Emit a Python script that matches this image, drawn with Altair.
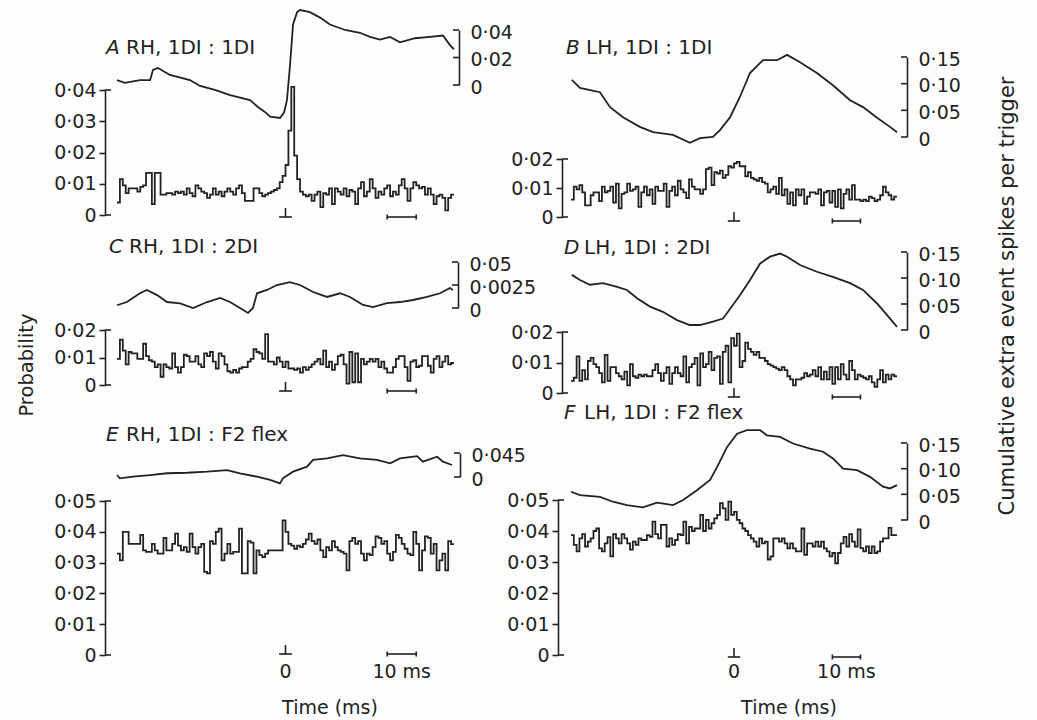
import altair as alt
import pandas as pd

# ---------------- data ----------------
T_START, T_END = -58, 58          # histogram time window (ms), 1 ms bins

hist_A = [0.004, 0.0115, 0.0095, 0.007, 0.0085, 0.0085, 0.0085, 0.0075, 0.009, 0.0095,
          0.0135, 0.0135, 0.0035, 0.0135, 0.0135, 0.0065, 0.0065, 0.007, 0.007, 0.0065,
          0.0075, 0.007, 0.0075, 0.0065, 0.0085, 0.007, 0.006, 0.0095, 0.0085, 0.0075,
          0.007, 0.0055, 0.0065, 0.0085, 0.0065, 0.0075, 0.006, 0.0075, 0.0085, 0.0075,
          0.0065, 0.0085, 0.0095, 0.007, 0.0045, 0.0045, 0.0045, 0.0085, 0.0085, 0.007,
          0.006, 0.0065, 0.007, 0.0075, 0.008, 0.0085, 0.0105, 0.0125, 0.016, 0.027,
          0.041, 0.019, 0.0115, 0.0075, 0.0065, 0.006, 0.0065, 0.0045, 0.0065, 0.0075,
          0.0025, 0.007, 0.0065, 0.0085, 0.0035, 0.0085, 0.0075, 0.0065, 0.0085, 0.006,
          0.008, 0.0075, 0.0035, 0.0085, 0.0105, 0.006, 0.0075, 0.0115, 0.0085, 0.0055,
          0.0075, 0.0065, 0.0085, 0.0095, 0.006, 0.0075, 0.0065, 0.0095, 0.0115, 0.0085,
          0.0045, 0.0085, 0.0105, 0.0095, 0.0085, 0.009, 0.0065, 0.0085, 0.0065, 0.0035,
          0.006, 0.0065, 0.0055, 0.0015, 0.0055, 0.0065]
hist_B = [0.006, 0.0105, 0.0095, 0.011, 0.0085, 0.004, 0.004, 0.0075, 0.0085, 0.0085,
          0.0055, 0.0105, 0.0085, 0.009, 0.0105, 0.005, 0.0115, 0.003, 0.008, 0.0085,
          0.0115, 0.009, 0.0095, 0.0105, 0.0035, 0.0085, 0.0105, 0.0075, 0.0095, 0.0045,
          0.0105, 0.009, 0.009, 0.0115, 0.0035, 0.009, 0.0105, 0.0075, 0.0125, 0.0095,
          0.0085, 0.0065, 0.013, 0.0105, 0.0095, 0.0095, 0.008, 0.0095, 0.0165, 0.017,
          0.011, 0.0155, 0.015, 0.016, 0.0135, 0.0145, 0.0175, 0.017, 0.0185, 0.019,
          0.0175, 0.0175, 0.014, 0.0155, 0.0135, 0.013, 0.0125, 0.0135, 0.012, 0.0115,
          0.0085, 0.0095, 0.0105, 0.008, 0.0135, 0.0075, 0.0095, 0.0045, 0.0085, 0.004,
          0.0095, 0.0075, 0.0095, 0.0045, 0.007, 0.0085, 0.0085, 0.008, 0.0095, 0.004,
          0.0085, 0.009, 0.005, 0.009, 0.0035, 0.0095, 0.003, 0.008, 0.0095, 0.006,
          0.011, 0.006, 0.006, 0.0055, 0.006, 0.0055, 0.007, 0.0065, 0.0055, 0.006,
          0.0075, 0.0105, 0.0085, 0.0075, 0.006, 0.007]
hist_C = [0.0095, 0.0165, 0.0125, 0.0075, 0.012, 0.0115, 0.0115, 0.0095, 0.0095, 0.015,
          0.0105, 0.009, 0.0085, 0.0065, 0.0075, 0.003, 0.0075, 0.0065, 0.006, 0.0115,
          0.0065, 0.0045, 0.0065, 0.011, 0.0105, 0.0085, 0.0085, 0.0105, 0.0075, 0.0065,
          0.0115, 0.0105, 0.012, 0.0085, 0.006, 0.0115, 0.0105, 0.0075, 0.005, 0.0045,
          0.0055, 0.0045, 0.006, 0.0065, 0.0065, 0.0085, 0.0095, 0.013, 0.012, 0.0115,
          0.0095, 0.0185, 0.0085, 0.0085, 0.0075, 0.01, 0.0085, 0.0065, 0.0085, 0.006,
          0.006, 0.0055, 0.006, 0.0045, 0.0065, 0.0055, 0.0065, 0.0075, 0.0085, 0.0095,
          0.0075, 0.0125, 0.0065, 0.0085, 0.0055, 0.0075, 0.0105, 0.011, 0.0075, 0.0005,
          0.012, 0.001, 0.0115, 0.001, 0.0095, 0.0075, 0.0085, 0.0095, 0.0085, 0.0095,
          0.0065, 0.0085, 0.006, 0.0045, 0.0045, 0.0065, 0.0095, 0.0105, 0.0105, 0.0065,
          0.0015, 0.0085, 0.009, 0.0065, 0.007, 0.0105, 0.0105, 0.007, 0.0045, 0.0095,
          0.0105, 0.0065, 0.0085, 0.0105, 0.0075, 0.008]
hist_D = [0.004, 0.005, 0.012, 0.004, 0.0075, 0.0045, 0.0105, 0.0115, 0.0095, 0.0085,
          0.0065, 0.0035, 0.0125, 0.004, 0.0085, 0.0085, 0.0065, 0.0055, 0.0045, 0.007,
          0.0025, 0.0095, 0.0055, 0.005, 0.006, 0.0055, 0.006, 0.0055, 0.0055, 0.0075,
          0.0095, 0.0065, 0.004, 0.0065, 0.0085, 0.003, 0.0065, 0.0085, 0.0065, 0.0055,
          0.012, 0.0035, 0.0085, 0.0095, 0.0115, 0.0025, 0.013, 0.0085, 0.0095, 0.0135,
          0.0075, 0.0115, 0.012, 0.003, 0.0135, 0.0155, 0.0035, 0.018, 0.0155, 0.0195,
          0.0085, 0.0105, 0.0165, 0.0145, 0.0135, 0.0125, 0.0135, 0.0115, 0.0115, 0.0105,
          0.0095, 0.009, 0.0085, 0.008, 0.0075, 0.0085, 0.0075, 0.0055, 0.0045, 0.0025,
          0.0045, 0.0045, 0.005, 0.0065, 0.0055, 0.006, 0.0075, 0.0055, 0.0085, 0.0045,
          0.007, 0.0045, 0.0085, 0.003, 0.0085, 0.0045, 0.0095, 0.006, 0.0045, 0.0105,
          0.0075, 0.0045, 0.006, 0.0055, 0.005, 0.0045, 0.0055, 0.0035, 0.002, 0.0045,
          0.0075, 0.0035, 0.006, 0.0045, 0.006, 0.0055]
hist_E = [0.0329, 0.0307, 0.040, 0.040, 0.0361, 0.0361, 0.0361, 0.0361, 0.039, 0.034,
          0.0335, 0.0335, 0.0361, 0.034, 0.0329, 0.0329, 0.038, 0.034, 0.034, 0.0361,
          0.0394, 0.0355, 0.034, 0.035, 0.0335, 0.0394, 0.035, 0.0329, 0.035, 0.0361,
          0.027, 0.0265, 0.037, 0.0361, 0.040, 0.041, 0.0307, 0.0329, 0.0361, 0.0329,
          0.0335, 0.0335, 0.041, 0.0265, 0.0265, 0.037, 0.0365, 0.0265, 0.034, 0.0324,
          0.0318, 0.0329, 0.034, 0.034, 0.034, 0.034, 0.034, 0.0437, 0.040, 0.0361,
          0.0355, 0.0345, 0.0355, 0.035, 0.0361, 0.0375, 0.0394, 0.037, 0.0361, 0.0375,
          0.034, 0.0318, 0.035, 0.034, 0.037, 0.035, 0.034, 0.0335, 0.0329, 0.0275,
          0.037, 0.038, 0.0361, 0.037, 0.0329, 0.0307, 0.0329, 0.0324, 0.035, 0.0385,
          0.038, 0.0361, 0.037, 0.0329, 0.0307, 0.0335, 0.039, 0.038, 0.0361, 0.0345,
          0.0329, 0.0324, 0.040, 0.0361, 0.0275, 0.034, 0.0385, 0.038, 0.0329, 0.0361,
          0.0275, 0.0307, 0.0329, 0.0275, 0.037, 0.036]
hist_F = [0.0387, 0.0355, 0.0334, 0.0376, 0.039, 0.035, 0.0366, 0.0376, 0.040, 0.0408,
          0.0344, 0.0334, 0.036, 0.038, 0.0318, 0.039, 0.0376, 0.036, 0.039, 0.0376,
          0.036, 0.034, 0.0366, 0.0355, 0.0376, 0.0371, 0.0371, 0.0387, 0.0381, 0.043,
          0.039, 0.0376, 0.042, 0.042, 0.035, 0.0376, 0.0355, 0.0371, 0.039, 0.0387,
          0.043, 0.036, 0.0413, 0.040, 0.0408, 0.0408, 0.0452, 0.040, 0.0436, 0.0408,
          0.0425, 0.0441, 0.0452, 0.049, 0.0473, 0.0436, 0.0495, 0.0452, 0.0462, 0.0436,
          0.0425, 0.0408, 0.040, 0.0387, 0.0376, 0.0366, 0.035, 0.0376, 0.036, 0.0366,
          0.0308, 0.0318, 0.0376, 0.0376, 0.0366, 0.0376, 0.036, 0.0344, 0.036, 0.0344,
          0.0334, 0.0334, 0.0408, 0.0323, 0.036, 0.036, 0.035, 0.0366, 0.035, 0.0366,
          0.0344, 0.0334, 0.0318, 0.0329, 0.0296, 0.0329, 0.036, 0.0381, 0.035, 0.039,
          0.0366, 0.035, 0.0405, 0.0345, 0.0334, 0.035, 0.0329, 0.035, 0.0329, 0.0334,
          0.0366, 0.0376, 0.0376, 0.041, 0.0387, 0.0387]

# cumulative-sum traces: time (ms) and value (extra spikes per trigger, bracket units)
cus_A_t = [-58, -55.3, -50.1, -46.6, -45.6, -43.9, -39.8, -32.9, -29.4, -24.3, -19.1, -12.2, -9.5,
           -7.1, -5.3, -1.9, -0.5, 0.5, 1.5, 2.6, 4, 5, 8.4, 11.9, 15.3, 20.5, 25.6, 29.1, 32.5,
           36, 39.4, 44.6, 49.7, 54.2, 56.6, 58]
cus_A_v = [0.0036, 0.0015, 0.0036, 0.0036, 0.011, 0.0124, 0.0073, 0.0036, -0.0007, -0.0036,
           -0.0073, -0.011, -0.016, -0.0196, -0.023, -0.024, -0.020, -0.011, 0.013, 0.044, 0.053,
           0.0545, 0.053, 0.049, 0.044, 0.040, 0.038, 0.035, 0.033, 0.035, 0.031, 0.034, 0.035,
           0.036, 0.029, 0.026]
cus_B_t = [-57.7, -54.8, -51.2, -47.7, -44.1, -39.5, -33.5, -28.8, -21.7, -15.7, -12.1, -7.5, -5,
           -1.4, 2.1, 5.7, 10.3, 15.3, 18.9, 23.5, 29.5, 35.2, 41.3, 45.9, 50.9, 55.5, 58]
cus_B_v = [0.107, 0.092, 0.088, 0.084, 0.056, 0.037, 0.019, 0.009, 0.004, -0.011, -0.002, 0.0,
           0.013, 0.037, 0.075, 0.12, 0.144, 0.144, 0.154, 0.140, 0.12, 0.097, 0.069, 0.056,
           0.036, 0.019, 0.009]
cus_C_t = [-58, -54.6, -50.1, -47.7, -44.2, -40.8, -36.3, -31.8, -27, -22.5, -19.1, -15.7, -12.9,
           -11.2, -9.8, -6.4, -2.9, 1.5, 5, 9.5, 14.3, 18.8, 22.2, 26.7, 30.1, 34.9, 39.4, 43.9,
           48.7, 53.2, 56.6, 57.6]
cus_C_v = [0.003, 0.0065, 0.016, 0.0196, 0.014, 0.0065, 0.005, 0.0, 0.0065, 0.011, 0.0065, 0.0,
           -0.0054, 0.0, 0.016, 0.0196, 0.025, 0.028, 0.025, 0.0174, 0.012, 0.016, 0.012, 0.0033,
           0.001, 0.0054, 0.0065, 0.0087, 0.012, 0.016, 0.0217, 0.0196]
cus_D_t = [-57.7, -54.8, -51.2, -46.6, -41.6, -38.1, -34.5, -29.9, -25.3, -20.3, -15.7, -12.1,
           -7.5, -3.9, -0.4, 2.1, 5.7, 9.3, 12.8, 16.4, 18.9, 23.5, 29.5, 35.2, 41.3, 45.9, 50.9,
           54.4, 58]
cus_D_v = [0.106, 0.096, 0.087, 0.090, 0.083, 0.077, 0.061, 0.045, 0.035, 0.019, 0.0096, 0.0096,
           0.016, 0.022, 0.048, 0.067, 0.096, 0.128, 0.141, 0.147, 0.141, 0.125, 0.112, 0.102,
           0.090, 0.077, 0.051, 0.029, 0.006]
cus_E_t = [-58, -57, -52.5, -46.6, -40.8, -33.9, -27, -20.1, -15.7, -9.8, -5.3, -1.9, -0.9, 2.6,
           7.4, 9.5, 14.3, 19.8, 25.6, 31.5, 36, 39.4, 45.3, 47.3, 52.2, 54.2, 57.3]
cus_E_v = [0.0037, -0.0025, 0.0006, 0.0037, 0.007, 0.008, 0.010, 0.013, 0.007, 0.0006, -0.0056,
           -0.0119, -0.0025, 0.010, 0.0194, 0.032, 0.035, 0.041, 0.035, 0.032, 0.0257, 0.035,
           0.039, 0.0287, 0.038, 0.0287, 0.0225]
cus_F_t = [-58, -54.8, -47.7, -43.1, -38.1, -32.4, -27.4, -21.7, -18.1, -13.2, -8.5, -6, -2.5,
           1.1, 4.6, 9.3, 11.7, 16.4, 21, 27, 31.7, 35.2, 38.8, 43.8, 48.4, 53, 55.5, 58]
cus_F_v = [0.055, 0.0485, 0.045, 0.0356, 0.029, 0.0246, 0.0337, 0.029, 0.039, 0.058, 0.078,
           0.1035, 0.142, 0.168, 0.175, 0.175, 0.165, 0.162, 0.149, 0.139, 0.133, 0.12, 0.10,
           0.097, 0.084, 0.065, 0.0615, 0.068]

for h in (hist_A, hist_B, hist_C, hist_D, hist_E, hist_F):
    assert len(h) == T_END - T_START

# axis ticks / labels
hist_ticks_A = [0, 0.01, 0.02, 0.03, 0.04]
hist_ticks_2 = [0, 0.01, 0.02]
hist_ticks_5 = [0, 0.01, 0.02, 0.03, 0.04, 0.05]
cus_ticks_A, cus_labels_A = [0, 0.02, 0.04], ['0', '0·02', '0·04']
cus_ticks_15, cus_labels_15 = [0, 0.05, 0.10, 0.15], ['0', '0·05', '0·10', '0·15']
cus_ticks_C, cus_labels_C = [0, 0.025, 0.05], ['0', '0·0025', '0·05']
cus_ticks_E, cus_labels_E = [0, 0.045], ['0', '0·045']

ZERO_MARK_HALF = 2.2      # ms, half-width of the trigger mark
SCALE_BAR = (35, 45)      # 10 ms scale bar

# ---------------- layout & style ----------------
W, H = 1037, 720
INK = '#222222'
FONT = 'DejaVu Sans'
AX_FS = 19
TITLE_FS = 20
LW = 1.8
X_PX = {0: [117, 454], 1: [571, 897]}

PANELS = [
    dict(letter='A', label='RH, 1DI : 1DI', col=0, hist=hist_A, ct=cus_A_t, cv=cus_A_v,
         hticks=hist_ticks_A, hpx=(215, 90), hax=105,
         cticks=cus_ticks_A, clabels=cus_labels_A, cpx=(85, 30), cax=459,
         title_xy=(106, 48), mark_px=2),
    dict(letter='B', label='LH, 1DI : 1DI', col=1, hist=hist_B, ct=cus_B_t, cv=cus_B_v,
         hticks=hist_ticks_2, hpx=(217, 159), hax=562,
         cticks=cus_ticks_15, clabels=cus_labels_15, cpx=(137, 57), cax=907,
         title_xy=(566, 48), mark_px=4),
    dict(letter='C', label='RH, 1DI : 2DI', col=0, hist=hist_C, ct=cus_C_t, cv=cus_C_v,
         hticks=hist_ticks_2, hpx=(385, 330), hax=105,
         cticks=cus_ticks_C, clabels=cus_labels_C, cpx=(308, 262), cax=458,
         title_xy=(109, 247), mark_px=6),
    dict(letter='D', label='LH, 1DI : 2DI', col=1, hist=hist_D, ct=cus_D_t, cv=cus_D_v,
         hticks=hist_ticks_2, hpx=(393, 332), hax=562,
         cticks=cus_ticks_15, clabels=cus_labels_15, cpx=(330, 252), cax=907,
         title_xy=(564, 248), mark_px=4),
    dict(letter='E', label='RH, 1DI : F2 flex', col=0, hist=hist_E, ct=cus_E_t, cv=cus_E_v,
         hticks=hist_ticks_5, hpx=(655, 501), hax=105,
         cticks=cus_ticks_E, clabels=cus_labels_E, cpx=(477, 453), cax=460,
         title_xy=(106, 435), mark_px=-1),
    dict(letter='F', label='LH, 1DI : F2 flex', col=1, hist=hist_F, ct=cus_F_t, cv=cus_F_v,
         hticks=hist_ticks_5, hpx=(655, 500), hax=558,
         cticks=cus_ticks_15, clabels=cus_labels_15, cpx=(520, 443), cax=907,
         title_xy=(564, 413), mark_px=2),
]


def label_expr(vals, labs):
    s = "''"
    for v, l in reversed(list(zip(vals, labs))):
        s = f"abs(datum.value - {v}) < 1e-9 ? '{l}' : ({s})"
    return s


def fmt(v):
    return '0' if v == 0 else f"{v:.2f}".replace('.', '·')


def xscale(col):
    return alt.Scale(domain=[T_START, T_END], range=X_PX[col], nice=False, zero=False)


def lin(dom, px):
    return alt.Scale(domain=dom, range=list(px), nice=False, zero=False)


def text_layer(s, x, y, size=AX_FS, italic=False, angle=0, align='left'):
    kw = dict(font=FONT, fontSize=size, color=INK, align=align, baseline='middle')
    if italic:
        kw['fontStyle'] = 'italic'
    if angle:
        kw['angle'] = angle
    return alt.Chart(pd.DataFrame({'s': [s]})).mark_text(**kw).encode(
        x=alt.value(x), y=alt.value(y), text='s:N')


layers = []
for p in PANELS:
    col = p['col']
    hmax = p['hticks'][-1]
    hsc = lin([0, hmax], p['hpx'])
    csc = lin([0, p['cticks'][-1]], p['cpx'])
    ppu = (p['hpx'][0] - p['hpx'][1]) / hmax        # pixels per probability unit

    # histogram (step line)
    t_edges = list(range(T_START, T_END + 1))
    hdf = pd.DataFrame({'t': t_edges, 'v': p['hist'] + [p['hist'][-1]]})
    h_axis = alt.Axis(orient='left', offset=-p['hax'], values=p['hticks'],
                      labelExpr=label_expr(p['hticks'], [fmt(v) for v in p['hticks']]),
                      grid=False, title=None, domainColor=INK, domainWidth=1.6,
                      tickColor=INK, tickWidth=1.6, tickSize=6, labelColor=INK,
                      labelFont=FONT, labelFontSize=AX_FS, labelPadding=3,
                      labelOverlap=False, labelFlush=False)
    layers.append(alt.Chart(hdf).mark_line(interpolate='step-after', color=INK, strokeWidth=LW).encode(
        x=alt.X('t:Q', scale=xscale(col), axis=None),
        y=alt.Y('v:Q', scale=hsc, axis=h_axis)))

    # caps of histogram axis (pointing right)
    capdf = pd.DataFrame({'v': [0, hmax]})
    layers.append(alt.Chart(capdf).mark_rule(color=INK, strokeWidth=1.6).encode(
        x=alt.value(p['hax']), x2=alt.value(p['hax'] + 6),
        y=alt.Y('v:Q', scale=hsc, axis=None)))

    # cumulative sum trace
    cdf = pd.DataFrame({'t': p['ct'], 'v': p['cv']})
    c_axis = alt.Axis(orient='right', offset=p['cax'] - W, values=p['cticks'],
                      labelExpr=label_expr(p['cticks'], p['clabels']),
                      grid=False, title=None, domainColor=INK, domainWidth=1.6,
                      ticks=False, tickSize=0, labelColor=INK, labelFont=FONT,
                      labelFontSize=AX_FS, labelPadding=11, labelOffset=2,
                      labelOverlap=False, labelFlush=False)
    layers.append(alt.Chart(cdf).mark_line(color=INK, strokeWidth=LW).encode(
        x=alt.X('t:Q', scale=xscale(col), axis=None),
        y=alt.Y('v:Q', scale=csc, axis=c_axis)))

    # bracket ticks of cumulative axis (pointing left)
    ctdf = pd.DataFrame({'v': p['cticks']})
    layers.append(alt.Chart(ctdf).mark_rule(color=INK, strokeWidth=1.6).encode(
        x=alt.value(p['cax'] - 6), x2=alt.value(p['cax']),
        y=alt.Y('v:Q', scale=csc, axis=None)))

    # trigger mark and 10 ms scale bar
    lvl = -p['mark_px'] / ppu
    up = 9 / ppu
    small = 2.5 / ppu
    segs = pd.DataFrame({
        't0': [0, -ZERO_MARK_HALF, SCALE_BAR[0], SCALE_BAR[0], SCALE_BAR[1]],
        't1': [0, ZERO_MARK_HALF, SCALE_BAR[1], SCALE_BAR[0], SCALE_BAR[1]],
        'y0': [lvl, lvl, lvl, lvl - small, lvl - small],
        'y1': [lvl + up, lvl, lvl, lvl + small, lvl + small],
    })
    layers.append(alt.Chart(segs).mark_rule(color=INK, strokeWidth=1.6).encode(
        x=alt.X('t0:Q', scale=xscale(col), axis=None), x2='t1:Q',
        y=alt.Y('y0:Q', scale=hsc, axis=None), y2='y1:Q'))

    # panel title
    tx, ty = p['title_xy']
    layers.append(text_layer(p['letter'], tx, ty, size=TITLE_FS, italic=True))
    layers.append(text_layer(p['label'], tx + 20, ty, size=TITLE_FS))

# time labels under E and F
for col, tx_time in ((0, 330), (1, 789)):
    tdf = pd.DataFrame({'t': [0, (SCALE_BAR[0] + SCALE_BAR[1]) / 2], 's': ['0', '10 ms']})
    layers.append(alt.Chart(tdf).mark_text(font=FONT, fontSize=AX_FS, color=INK,
                                           align='center', baseline='middle').encode(
        x=alt.X('t:Q', scale=xscale(col), axis=None), y=alt.value(672), text='s:N'))
    layers.append(text_layer('Time (ms)', tx_time, 708, align='center'))

layers.append(text_layer('Probability', 27, 365, size=19.5, angle=270, align='center'))
layers.append(text_layer('Cumulative extra event spikes per trigger', 1008, 296, size=21,
                         angle=270, align='center'))

chart = alt.layer(*layers).resolve_scale(x='independent', y='independent').resolve_axis(
    x='independent', y='independent').properties(
    width=W, height=H, padding=0, background='#fdfdfd',
    autosize=alt.AutoSizeParams(type='none')).configure_view(stroke='transparent')

chart.save("out.html", embed_options={"renderer": "svg", "actions": False})
